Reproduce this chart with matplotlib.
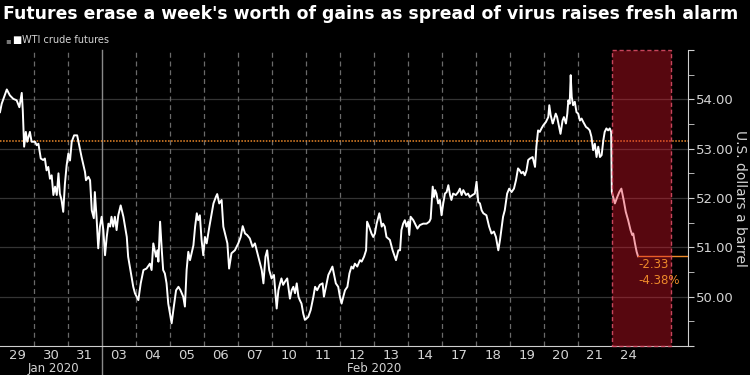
import matplotlib.pyplot as plt
from matplotlib.patches import Rectangle

# WTI crude futures, intraday, x in trading days from Jan 29 open
t = [0.00, 0.05, 0.20, 0.29, 0.39, 0.49, 0.57, 0.64, 0.67, 0.71, 0.76, 0.80, 0.88, 0.93, 1.03, 1.08, 1.13,
     1.20, 1.27, 1.32, 1.37, 1.42, 1.47, 1.52, 1.57, 1.62, 1.67, 1.72, 1.76, 1.81, 1.86, 1.91, 1.96, 2.01,
     2.06, 2.11, 2.18, 2.27, 2.33, 2.40, 2.50, 2.53, 2.60, 2.65, 2.70, 2.76, 2.79, 2.84, 2.89, 2.94, 2.99,
     3.04, 3.09, 3.14, 3.19, 3.24, 3.28, 3.33, 3.38, 3.43, 3.48, 3.55, 3.63, 3.73, 3.77,
     3.87, 3.92, 3.97, 4.07, 4.14, 4.22, 4.31, 4.41, 4.46, 4.51, 4.59, 4.63, 4.66, 4.71, 4.76, 4.80, 4.85,
     4.90, 4.95, 5.00, 5.05, 5.10, 5.18, 5.25, 5.31, 5.39, 5.44, 5.49, 5.54, 5.59, 5.69, 5.74, 5.79, 5.83,
     5.88, 5.93, 5.98, 6.03, 6.08, 6.16, 6.23, 6.28, 6.35, 6.39, 6.45, 6.52, 6.57, 6.62, 6.69, 6.74, 6.81,
     6.91, 7.01, 7.08, 7.14, 7.21, 7.27, 7.35, 7.43, 7.50, 7.60, 7.70, 7.75, 7.81,
     7.86, 7.92, 7.99, 8.06, 8.14, 8.19, 8.24, 8.28, 8.33, 8.38, 8.45, 8.53, 8.58, 8.63, 8.68, 8.73, 8.78,
     8.82, 8.87, 8.92, 8.97, 9.07, 9.14, 9.22, 9.27, 9.33, 9.41, 9.49, 9.53, 9.61, 9.66, 9.73, 9.78, 9.82,
     9.88, 9.95, 10.00, 10.05, 10.10, 10.15, 10.22, 10.28, 10.34, 10.39, 10.44, 10.51, 10.59, 10.64, 10.71,
     10.77, 10.80, 10.86, 10.93, 10.98, 11.03, 11.08, 11.16, 11.23, 11.27, 11.32, 11.37, 11.47, 11.55,
     11.65, 11.72, 11.77, 11.81, 11.86, 11.91, 11.96, 12.01, 12.04, 12.08, 12.16, 12.21, 12.28, 12.35,
     12.45, 12.55, 12.63, 12.67, 12.70, 12.73, 12.77, 12.80, 12.84, 12.89, 12.94, 12.99, 13.04, 13.09,
     13.14, 13.19, 13.24, 13.28, 13.33, 13.41, 13.48, 13.53, 13.58, 13.63, 13.71, 13.77, 13.82, 13.90,
     13.97, 14.02, 14.07, 14.12, 14.17, 14.22, 14.31, 14.39, 14.46, 14.53, 14.59, 14.66, 14.71, 14.76,
     14.80, 14.85, 14.92, 14.98, 15.05, 15.12, 15.18, 15.24, 15.29, 15.34, 15.39, 15.44, 15.49, 15.54, 15.59,
     15.67, 15.74, 15.78, 15.83, 15.88, 15.93, 15.98, 16.06, 16.13, 16.16, 16.20, 16.26, 16.29, 16.35,
     16.39, 16.45, 16.49, 16.55, 16.59, 16.65, 16.69, 16.72, 16.76, 16.79, 16.82, 16.86, 16.91, 16.96,
     17.01, 17.06, 17.11, 17.16, 17.24, 17.30, 17.35, 17.40, 17.45, 17.50, 17.55, 17.60, 17.65, 17.70,
     17.75, 17.79, 17.84, 17.89, 17.94, 17.98, 18.00, 18.09, 18.16, 18.22, 18.28, 18.35, 18.41, 18.48,
     18.55, 18.60, 18.63, 18.68, 18.73, 18.77]
price = [53.74, 53.91, 54.20, 54.08, 54.01, 53.98, 53.84, 54.13, 53.78, 53.04, 53.34, 53.14, 53.34, 53.14,
         53.14, 53.07, 53.10, 52.80, 52.77, 52.80, 52.56, 52.63, 52.39, 52.46, 52.06, 52.23, 52.06, 52.50,
         52.09, 51.96, 51.72, 52.29, 52.66, 52.90, 52.76, 53.14, 53.27, 53.27, 53.07, 52.83, 52.53, 52.36,
         52.43, 52.36, 51.75, 51.59, 52.12, 51.62, 50.98, 51.42, 51.62, 51.35, 50.84, 51.21, 51.48, 51.42,
         51.62, 51.42, 51.62, 51.35, 51.65, 51.85, 51.62, 51.21, 50.81,
         50.40, 50.20, 50.07, 49.93, 50.27, 50.54, 50.57, 50.67, 50.54, 51.08, 50.81, 50.94, 50.71, 51.52,
         50.94, 50.54, 50.47, 50.27, 49.86, 49.66, 49.46, 49.73, 50.13, 50.20, 50.13, 50.00, 49.80, 50.54,
         50.91, 50.74, 51.04, 51.42, 51.69, 51.55, 51.65, 51.15, 50.84, 51.21, 51.08, 51.42, 51.69, 51.89,
         52.02, 52.08, 51.89, 51.96, 51.42, 51.28, 51.08, 50.57, 50.88, 50.94, 51.08, 51.21, 51.43, 51.28,
         51.25, 51.18, 51.01, 51.08, 50.81, 50.54, 50.27, 50.81,
         50.94, 50.54, 50.37, 50.44, 49.76, 50.13, 50.27, 50.37, 50.24, 50.30, 50.37, 49.96, 50.13, 50.20,
         50.07, 50.27, 50.00, 49.93, 49.86, 49.66, 49.53, 49.59, 49.73, 50.00, 50.20, 50.13, 50.24, 50.27,
         50.00, 50.27, 50.44, 50.54, 50.61, 50.47, 50.27, 50.20, 50.00, 49.86, 50.00, 50.13, 50.20, 50.47,
         50.61, 50.57, 50.67, 50.61, 50.74, 50.71, 50.81, 50.94, 51.52, 51.42, 51.28, 51.21, 51.28, 51.48,
         51.69, 51.42, 51.48, 51.42, 51.21, 51.15, 50.94,
         50.74, 50.94, 50.94, 51.35, 51.48, 51.55, 51.42, 51.52, 51.25, 51.62, 51.55, 51.48, 51.38, 51.45,
         51.48, 51.48, 51.52, 51.58, 51.89, 52.23, 52.02, 52.16, 52.09, 51.89, 51.96, 51.65, 51.89, 52.09,
         52.12, 52.26, 52.06, 51.96, 52.09, 52.06, 52.12, 52.19, 52.06, 52.16, 52.06, 52.09, 52.02, 52.06,
         52.09, 52.33, 51.92, 51.89, 51.75, 51.69, 51.65, 51.42, 51.28, 51.32, 51.21, 50.94, 51.15, 51.42,
         51.62, 51.75, 52.09, 52.19, 52.12, 52.19, 52.36, 52.60, 52.56, 52.50, 52.53, 52.46, 52.56, 52.77, 52.80,
         52.83, 52.63, 53.04, 53.37, 53.34, 53.41, 53.47, 53.54, 53.64, 53.88, 53.68, 53.51, 53.57, 53.71,
         53.64, 53.44, 53.30, 53.57, 53.64, 53.51, 53.71, 53.98, 53.91, 54.49, 54.05, 53.88, 53.95, 53.74,
         53.71, 53.57, 53.61, 53.54, 53.44, 53.41, 53.37, 53.24, 52.97, 53.10, 52.83, 53.04, 52.83, 52.87,
         53.17, 53.34, 53.41, 53.37, 53.41, 53.34, 52.12, 51.89, 52.02, 52.12, 52.19, 51.95, 51.72, 51.55,
         51.35, 51.25, 51.28, 51.08, 50.91, 50.82]

day_labels = ['29', '30', '31', '03', '04', '05', '06', '07', '10', '11', '12', '13', '14',
              '17', '18', '19', '20', '21', '24']
month_labels = ['Jan 2020', 'Feb 2020']
prev_close = 53.15
change = -2.33
change_pct = -4.38

orange = '#ee8a2a'
grey_txt = '#d4d4d4'

fig = plt.figure(figsize=(7.5, 3.75), dpi=100, facecolor='black')
ax = fig.add_axes([0, 0.0773, 0.9173, 0.7894])
ax.set_facecolor('black')
ax.set_xlim(0, 20.24)
ax.set_ylim(49, 55)

# grid
for v in range(50, 55):
    ax.axhline(v, color='#343434', lw=0.9, zorder=1)
for d in range(1, 18):
    if day_labels[d] == '03':
        ax.axvline(d, ymin=-0.1, ymax=1, color='#8a8a8a', lw=1, clip_on=False, zorder=1)
    else:
        ax.axvline(d, color='#6a6a6a', lw=0.9, ls=(0, (4, 3)), zorder=1)

ax.axhline(prev_close, color=orange, lw=1.1, ls=(0, (1, 1)), zorder=2)
ax.plot(t, price, color='white', lw=1.4, zorder=3)
ax.plot([t[-1], 20.24], [price[-1], price[-1]], color=orange, lw=1, zorder=3)

# today's session highlight
ax.add_patch(Rectangle((18, 49), 1.74, 6, facecolor=(0.9, 0.08, 0.16, 0.38),
                       edgecolor=(0.85, 0.3, 0.4, 0.9), ls=(0, (3, 2)), lw=1, zorder=5, clip_on=False))

ax.text(t[-1] + 0.02, 50.66, f'{change:.2f}', color=orange, fontsize=8.5, va='center', zorder=6)
ax.text(t[-1] + 0.02, 50.32, f'{change_pct:.2f}%', color=orange, fontsize=8.5, va='center', zorder=6)

# axes styling
for s in ['top', 'left']:
    ax.spines[s].set_visible(False)
ax.spines['right'].set_color('#cfcfcf')
ax.spines['bottom'].set_color('#cfcfcf')
ax.yaxis.tick_right()
ax.set_yticks(range(49, 56))
ax.set_yticklabels([''] + [f'{v:.2f}' for v in range(50, 55)] + [''])
ax.set_yticks([v + 0.5 for v in range(49, 55)], minor=True)
ax.tick_params(axis='y', which='both', colors='#cfcfcf', labelcolor=grey_txt, labelsize=9.5,
               length=4, pad=2)
ax.set_xticks([i + 0.5 for i in range(len(day_labels))])
ax.set_xticklabels(day_labels)
ax.tick_params(axis='x', length=0, labelcolor=grey_txt, labelsize=9.5, pad=2)

# month labels sit at the very bottom edge
for m, xm in zip(month_labels, [1.56, 11.0]):
    fig.text(xm / 20.24 * 0.9173, 0.0, m, ha='center', va='bottom', color=grey_txt, fontsize=8.5)

fig.text(0.987, 0.47, 'U.S. dollars a barrel', rotation=-90, ha='center', va='center',
         color=grey_txt, fontsize=10)
fig.text(0.004, 0.963, "Futures erase a week's worth of gains as spread of virus raises fresh alarm",
         color='white', fontsize=12.4, weight='bold', va='center')

# legend
fig.text(0.007, 0.893, '\u25aa', color='#777777', fontsize=6, va='center')
fig.text(0.016, 0.893, '\u25a0', color='white', fontsize=7, va='center')
fig.text(0.029, 0.893, 'WTI crude futures', color=grey_txt, fontsize=7, va='center')

fig.savefig('out.png', dpi=100, facecolor='black')
